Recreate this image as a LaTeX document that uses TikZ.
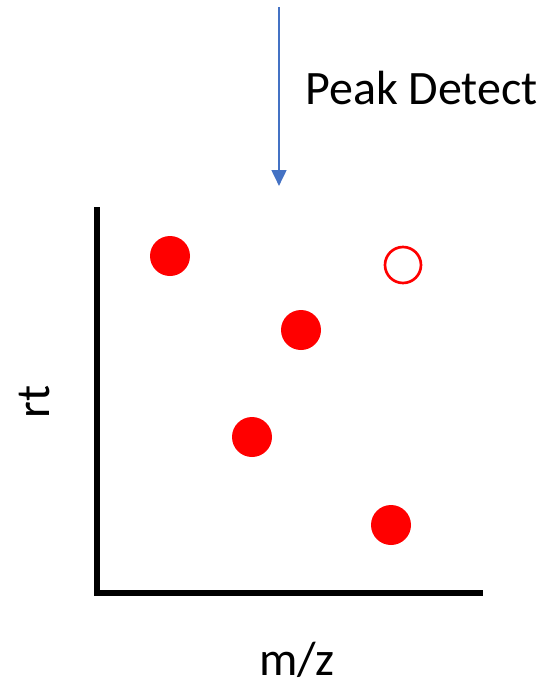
\documentclass[tikz,border=0pt]{standalone}
\usepackage{fontspec}
\setmainfont{Carlito}
\usepackage{xcolor}
\usetikzlibrary{arrows.meta,positioning}
\definecolor{flowblue}{HTML}{4472C4}
\definecolor{peakred}{HTML}{FF0000}
\tikzset{
	peak/.style={circle, fill=peakred, inner sep=0pt, minimum size=40*0.75pt},
	miss/.style={circle, draw=peakred, line width=2pt, fill=white, inner sep=0pt, minimum size=36*0.75pt},
	axis/.style={line width=4pt, line cap=rect},
	lbl/.style={font=\fontsize{36}{43}\selectfont, inner sep=0pt},
}
\begin{document}
\begin{tikzpicture}[x=0.75pt, y=-0.75pt]
	\useasboundingbox (0,0) rectangle (544,690);
	\coordinate (top) at (279,7);
	\coordinate (bot) at (279,186);
	\draw[flowblue, line width=2pt, -{Triangle[length=12pt, width=11pt]}] (top) -- (bot);
	\node[lbl, anchor=base west] at (305,104) (pd) {Peak Detect};
	\coordinate (org) at (97,593);
	\draw[axis] (97,210) -- (org) -- (480,593);
	\node[lbl, rotate=90] at (35,402) (rt) {rt};
	\node[lbl] at (297,660) (mz) {m/z};
	\node[peak] at (170,256) (p1) {};
	\node[peak] at (301,330) (p2) {};
	\node[peak] at (252,437) (p3) {};
	\node[peak] at (391,525) (p4) {};
	\node[miss] at (403,265) (p5) {};
\end{tikzpicture}
\end{document}
